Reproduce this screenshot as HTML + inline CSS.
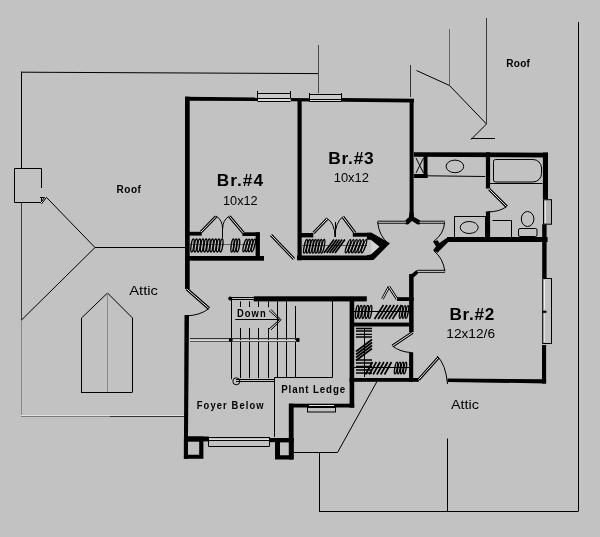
<!DOCTYPE html>
<html><head><meta charset="utf-8">
<style>
html,body{margin:0;padding:0;background:#c2c2c2;width:600px;height:537px;overflow:hidden}
svg{display:block;will-change:transform}
text{font-family:"Liberation Sans",sans-serif;fill:#000}
</style></head>
<body>
<svg width="600" height="537" viewBox="0 0 600 537">
<polyline points="21.5,320 21.5,202" stroke="#3a3a3a" stroke-width="1" fill="none"/>
<polyline points="21.5,416 21.5,320" stroke="#8a8a8a" stroke-width="1" fill="none"/>
<polyline points="21.5,168 21.5,71.7" stroke="#000" stroke-width="1" fill="none"/>
<polyline points="21,72.2 318.5,73.6" stroke="#000" stroke-width="1" fill="none"/>
<polyline points="318.5,45 318.5,93.3" stroke="#4a4a4a" stroke-width="1" fill="none"/>
<polyline points="41.5,188 41.5,168.5 14.5,168.5 14.5,202.5 41,202.5" stroke="#000" stroke-width="1" fill="none"/>
<polyline points="41.5,197.5 41.5,202" stroke="#000" stroke-width="1" fill="none"/>
<polyline points="40,197.5 44.5,197.5 42,201" stroke="#000" stroke-width="1" fill="none"/>
<polyline points="41.5,204 46.5,197.4" stroke="#000" stroke-width="1" fill="none"/>
<polyline points="46.5,197.4 95,247.5" stroke="#000" stroke-width="1" fill="none"/>
<polyline points="95,247.5 185,247.5" stroke="#000" stroke-width="1" fill="none"/>
<polyline points="95,247.5 21.5,320" stroke="#000" stroke-width="1" fill="none"/>
<polyline points="81.5,392 81.5,318" stroke="#000" stroke-width="1" fill="none"/>
<polyline points="132.5,318 132.5,392" stroke="#000" stroke-width="1" fill="none"/>
<polyline points="81.5,318 107.5,293 132.5,318" stroke="#000" stroke-width="1" fill="none"/>
<polyline points="81,392.5 132.5,392.5" stroke="#000" stroke-width="1" fill="none"/>
<polyline points="107.5,293 107.5,392" stroke="#8a8a8a" stroke-width="1" fill="none"/>
<polyline points="21,415.5 184,415.5" stroke="#e2e2e2" stroke-width="1" fill="none"/>
<polyline points="21,416.5 110,416.5" stroke="#7a7a7a" stroke-width="1" fill="none"/>
<polyline points="110,416.5 184,416.5" stroke="#333" stroke-width="1" fill="none"/>
<polyline points="410.5,65 410.5,97" stroke="#333" stroke-width="1" fill="none"/>
<polyline points="416.5,70.5 449.5,85.5 486.5,124 471,139.5" stroke="#000" stroke-width="1" fill="none"/>
<polyline points="471,138.5 495,138.5" stroke="#000" stroke-width="1" fill="none"/>
<polyline points="449.5,29 449.5,85" stroke="#666" stroke-width="1" fill="none"/>
<polyline points="486.5,18 486.5,124" stroke="#3a3a3a" stroke-width="1" fill="none"/>
<polyline points="578.5,22 578.5,511" stroke="#000" stroke-width="1" fill="none"/>
<polyline points="319.5,452.5 319.5,511" stroke="#000" stroke-width="1" fill="none"/>
<polyline points="319,511.5 578.5,511.5" stroke="#000" stroke-width="1" fill="none"/>
<polyline points="447.5,438.5 447.5,511" stroke="#000" stroke-width="1" fill="none"/>
<polyline points="294,452.5 337.5,452.5" stroke="#000" stroke-width="1" fill="none"/>
<polyline points="337.5,452.5 376.7,382" stroke="#000" stroke-width="1" fill="none"/>
<polyline points="294,404.5 320,404.5" stroke="#000" stroke-width="1" fill="none"/>
<polyline points="274.5,437 274.5,377.5" stroke="#000" stroke-width="1" fill="none"/>
<polyline points="274.5,377.5 332.5,377.5" stroke="#000" stroke-width="1" fill="none"/>
<polyline points="332.5,377.5 332.5,300" stroke="#000" stroke-width="1" fill="none"/>
<polygon points="185,96.7 257.5,97.6 257.5,100.9 185,100.8" fill="#000"/>
<polygon points="290.5,98 309.5,98.2 309.5,101.5 290.5,101.3" fill="#000"/>
<polygon points="341.5,98 414,98.75 414,102.5 341.5,101.75" fill="#000"/>
<rect x="185" y="96.7" width="4.7" height="192.3" fill="#000"/>
<polygon points="184.5,315 189,315 187.8,458.7 183.9,458.7" fill="#000"/>
<rect x="297.5" y="99" width="4.2" height="161.3" fill="#000"/>
<rect x="409.6" y="99" width="4" height="118" fill="#000"/>
<polygon points="413.8,152.2 548,152.7 548,157.6 413.8,156.7" fill="#000"/>
<rect x="542.9" y="152.5" width="5.1" height="47" fill="#000"/>
<rect x="542.2" y="224" width="4.4" height="54" fill="#000"/>
<rect x="542" y="345" width="4.1" height="38.5" fill="#000"/>
<rect x="447" y="237" width="100.6" height="5" fill="#000"/>
<rect x="423.6" y="156" width="3.9" height="22" fill="#000"/>
<rect x="413.8" y="174" width="13.7" height="4" fill="#000"/>
<rect x="485.9" y="152.3" width="4.2" height="36.2" fill="#000"/>
<rect x="485.9" y="211.4" width="4.2" height="28.6" fill="#000"/>
<polygon points="447.5,378.4 546.1,379.3 546.1,383.4 447.5,382" fill="#000"/>
<rect x="409.1" y="274" width="4.5" height="58.2" fill="#000"/>
<rect x="409.1" y="352.3" width="4.1" height="29.7" fill="#000"/>
<rect x="253.7" y="296.3" width="113.1" height="5.1" fill="#000"/>
<rect x="397" y="297.2" width="16.6" height="3.8" fill="#000"/>
<rect x="349.6" y="297" width="4.6" height="110.7" fill="#000"/>
<rect x="354" y="322.6" width="55.5" height="3.9" fill="#000"/>
<rect x="349.6" y="378" width="69.2" height="3.8" fill="#000"/>
<rect x="289" y="403.7" width="65.2" height="3.8" fill="#000"/>
<rect x="288.8" y="403.7" width="4.8" height="55.8" fill="#000"/>
<rect x="184" y="436.5" width="25" height="4.9" fill="#000"/>
<rect x="267.5" y="438" width="26.1" height="4.2" fill="#000"/>
<path d="M183.9,436.5 H203.4 V458.7 H183.9 Z M187.8,441.4 V454.8 H199.2 V441.4 Z" fill="#000" fill-rule="evenodd"/>
<path d="M275,438 H293.6 V459.5 H275 Z M280,442.2 V455.2 H289 V442.2 Z" fill="#000" fill-rule="evenodd"/>
<rect x="188" y="231.8" width="13.7" height="3.8" fill="#000"/>
<rect x="242.4" y="232.3" width="17.2" height="3.7" fill="#000"/>
<rect x="255.6" y="232.3" width="4.3" height="25.2" fill="#000"/>
<rect x="188" y="256" width="76" height="4.7" fill="#000"/>
<rect x="301" y="233" width="12.3" height="4.4" fill="#000"/>
<rect x="352.8" y="232.8" width="18.8" height="3.9" fill="#000"/>
<rect x="297" y="255.5" width="75" height="4.6" fill="#000"/>
<polygon points="366.9,232.8 371.6,232.8 390,243.2 373.5,260.1 366.9,260.1 366.9,255.2 370.8,254.6 379.5,246.8 370.8,239.7 366.9,239.7" fill="#000"/>
<polygon points="371.3,240.5 371.3,254 378.8,246.8" fill="#d6d6d6"/>
<polygon points="409.6,212 413.4,212 414,217 420,220.3 420,224.3 417.5,224.5 412,221 408,224.5 405.5,224.3 405.5,220.3 409,217" fill="#000"/>
<polygon points="460,237.3 447.7,237.3 439.5,243 437.5,240.3 433,241.5 436,246.5 433,250.3 437.5,252.8 449,241.2 460,241.2" fill="#000"/>
<polygon points="409.1,276 416.3,270.3 418,271 418,273.6 413.6,277.5" fill="#000"/>
<rect x="257.5" y="93.3" width="33" height="5.1" fill="#cbcbcb"/>
<rect x="257.5" y="98.4" width="33" height="2.8" fill="#dadada"/>
<polyline points="257.5,93.5 290.5,93.5" stroke="#000" stroke-width="1" fill="none"/>
<polyline points="257.5,98.5 290.5,98.5" stroke="#000" stroke-width="1" fill="none"/>
<polyline points="257.5,101.5 290.5,101.5" stroke="#000" stroke-width="1" fill="none"/>
<polyline points="257.5,90.8 257.5,101" stroke="#000" stroke-width="1" fill="none"/>
<polyline points="290.5,91 290.5,98" stroke="#000" stroke-width="1" fill="none"/>
<rect x="309.5" y="94.2" width="32" height="5.3" fill="#cbcbcb"/>
<rect x="309.5" y="99.5" width="32" height="1.8" fill="#dadada"/>
<polyline points="309.5,94.5 341.5,94.5" stroke="#000" stroke-width="1" fill="none"/>
<polyline points="309.5,99.5 341.5,99.5" stroke="#000" stroke-width="1" fill="none"/>
<polyline points="309.5,101.5 341.5,101.5" stroke="#000" stroke-width="1" fill="none"/>
<polyline points="309.5,93 309.5,101.5" stroke="#000" stroke-width="1" fill="none"/>
<polyline points="341.5,93 341.5,101.5" stroke="#000" stroke-width="1" fill="none"/>
<rect x="542.5" y="199.2" width="9.5" height="25.2" fill="#c2c2c2"/>
<rect x="543.5" y="199.7" width="8" height="24.5" stroke="#000" stroke-width="1" fill="#b4b4b4"/>
<polyline points="545.5,201 545.5,223" stroke="#e8e8e8" stroke-width="1" fill="none"/>
<rect x="542" y="278.2" width="10.1" height="65.7" fill="#c2c2c2"/>
<rect x="542.7" y="278.5" width="8.8" height="65" stroke="#000" stroke-width="1" fill="none"/>
<polyline points="544.5,280 544.5,309" stroke="#f0f0f0" stroke-width="1" fill="none"/>
<polyline points="544.5,314 544.5,342" stroke="#e0e0e0" stroke-width="1" fill="none"/>
<rect x="542" y="310.8" width="4.5" height="2" fill="#000"/>
<rect x="208.7" y="436.8" width="60.6" height="9.5" fill="#c2c2c2"/>
<polyline points="208.7,437.5 269.3,437.5" stroke="#000" stroke-width="1" fill="none"/>
<polyline points="208.7,440.5 269.3,440.5" stroke="#000" stroke-width="1" fill="none"/>
<polyline points="208.7,446.5 269.3,446.5" stroke="#000" stroke-width="1" fill="none"/>
<polyline points="208.7,439.5 269.3,439.5" stroke="#dcdcdc" stroke-width="1" fill="none"/>
<polyline points="208.5,437 208.5,446.5" stroke="#000" stroke-width="1" fill="none"/>
<polyline points="269.5,437 269.5,446.5" stroke="#000" stroke-width="1" fill="none"/>
<polyline points="309,405.5 334,405.5" stroke="#e4e4e4" stroke-width="1" fill="none"/>
<rect x="307.5" y="407.5" width="28" height="4.5" stroke="#000" stroke-width="1" fill="none"/>
<line x1="186.8" y1="289" x2="209" y2="308.5" stroke="#000" stroke-width="3"/>
<line x1="186.8" y1="289" x2="209" y2="308.5" stroke="#e8e8e8" stroke-width="1"/>
<line x1="271" y1="235" x2="294" y2="259" stroke="#000" stroke-width="3"/>
<line x1="271" y1="235" x2="294" y2="259" stroke="#e8e8e8" stroke-width="1"/>
<line x1="377.6" y1="222.2" x2="406" y2="222.2" stroke="#000" stroke-width="3"/>
<line x1="377.6" y1="222.2" x2="406" y2="222.2" stroke="#e8e8e8" stroke-width="1"/>
<line x1="419.5" y1="222.2" x2="444.6" y2="222.2" stroke="#000" stroke-width="3"/>
<line x1="419.5" y1="222.2" x2="444.6" y2="222.2" stroke="#e8e8e8" stroke-width="1"/>
<line x1="417.3" y1="271.3" x2="444.9" y2="271.3" stroke="#000" stroke-width="3"/>
<line x1="417.3" y1="271.3" x2="444.9" y2="271.3" stroke="#e8e8e8" stroke-width="1"/>
<line x1="489.2" y1="189.2" x2="506.7" y2="206.6" stroke="#000" stroke-width="3"/>
<line x1="489.2" y1="189.2" x2="506.7" y2="206.6" stroke="#e8e8e8" stroke-width="1"/>
<line x1="412.6" y1="332.5" x2="392.5" y2="346" stroke="#000" stroke-width="3"/>
<line x1="412.6" y1="332.5" x2="392.5" y2="346" stroke="#e8e8e8" stroke-width="1"/>
<line x1="418.8" y1="379.4" x2="438.5" y2="357.5" stroke="#000" stroke-width="3"/>
<line x1="418.8" y1="379.4" x2="438.5" y2="357.5" stroke="#e8e8e8" stroke-width="1"/>
<line x1="201" y1="232" x2="216" y2="216.5" stroke="#000" stroke-width="3"/>
<line x1="201" y1="232" x2="216" y2="216.5" stroke="#e8e8e8" stroke-width="1"/>
<line x1="229.5" y1="216.5" x2="243.5" y2="233" stroke="#000" stroke-width="3"/>
<line x1="229.5" y1="216.5" x2="243.5" y2="233" stroke="#e8e8e8" stroke-width="1"/>
<line x1="313.5" y1="233" x2="327" y2="219" stroke="#000" stroke-width="3"/>
<line x1="313.5" y1="233" x2="327" y2="219" stroke="#e8e8e8" stroke-width="1"/>
<line x1="343" y1="217" x2="355" y2="233" stroke="#000" stroke-width="3"/>
<line x1="343" y1="217" x2="355" y2="233" stroke="#e8e8e8" stroke-width="1"/>
<path d="M209,308.5 Q200,315.5 186.8,315.8 M377.6,221.8 Q379,236 388.5,243.6 M444.6,222.2 Q444,234 433.5,241.5 M444.9,271.3 Q443,258 434,251 M506.7,206.6 Q499,212 488.2,211.8 M392.5,346 Q400,352 411.5,352.6 M437.2,355.9 Q446,365 447.5,384" stroke="#000" stroke-width="1" fill="none" />
<path d="M416,158 L423.5,173 M423.5,158 L416,173" stroke="#000" stroke-width="1" fill="none" />
<polyline points="427.5,175.8 485.2,176.5" stroke="#000" stroke-width="1" fill="none"/>
<ellipse cx="454.9" cy="166.4" rx="8.8" ry="6.3" stroke="#000" fill="none"/>
<path d="M495.5,159.5 H533 A8.5,8.5 0 0 1 541.5,168 V173.5 A8.5,8.5 0 0 1 533,182 H495.5 A2,2 0 0 1 493.5,180 V161.5 A2,2 0 0 1 495.5,159.5 Z" stroke="#000" stroke-width="1" fill="none" />
<polyline points="490,183.5 542.5,183.5" stroke="#000" stroke-width="1" fill="none"/>
<rect x="454.5" y="216.5" width="31" height="21.5" stroke="#000" fill="none"/>
<ellipse cx="469.2" cy="227.5" rx="9" ry="6" stroke="#000" fill="none"/>
<ellipse cx="527.6" cy="219" rx="6.3" ry="7.5" stroke="#000" fill="none"/>
<rect x="518.5" y="228.5" width="18.5" height="8" rx="1.5" stroke="#000" fill="none"/>
<path d="M492.5,220.5 H511.5 V237.5" stroke="#000" stroke-width="1" fill="none" />
<polyline points="230.2,297.5 253.7,297.5" stroke="#000" stroke-width="1" fill="none"/>
<polyline points="230.2,299.5 253.7,299.5" stroke="#000" stroke-width="1" fill="none"/>
<polyline points="231.5,298 231.5,379.2" stroke="#000" stroke-width="1" fill="none"/>
<polyline points="240.5,301.4 240.5,307" stroke="#000" stroke-width="1" fill="none"/>
<polyline points="240.5,328 240.5,378" stroke="#000" stroke-width="1" fill="none"/>
<polyline points="249.5,301.4 249.5,307" stroke="#000" stroke-width="1" fill="none"/>
<polyline points="249.5,328 249.5,378" stroke="#000" stroke-width="1" fill="none"/>
<polyline points="258.5,301.4 258.5,307" stroke="#000" stroke-width="1" fill="none"/>
<polyline points="258.5,328 258.5,378" stroke="#000" stroke-width="1" fill="none"/>
<polyline points="268.5,301.4 268.5,307.3" stroke="#000" stroke-width="1" fill="none"/>
<polyline points="268.5,328 268.5,378" stroke="#000" stroke-width="1" fill="none"/>
<polyline points="277.5,301.4 277.5,378" stroke="#000" stroke-width="1" fill="none"/>
<polyline points="286.5,301.4 286.5,378" stroke="#000" stroke-width="1" fill="none"/>
<polyline points="295.5,306 295.5,378" stroke="#000" stroke-width="1" fill="none"/>
<polyline points="190,338.5 299.5,338.5" stroke="#333" stroke-width="1" fill="none"/>
<polyline points="190,341.5 299.5,341.5" stroke="#555" stroke-width="1" fill="none"/>
<polyline points="190,340.5 299.5,340.5" stroke="#dadada" stroke-width="1" fill="none"/>
<polyline points="236,379.5 274.2,379.5" stroke="#000" stroke-width="1" fill="none"/>
<polyline points="236,381.5 274.2,381.5" stroke="#000" stroke-width="1" fill="none"/>
<circle cx="236.3" cy="381.3" r="3.5" stroke="#000" fill="none"/>
<polyline points="235.3,319.5 279.3,319.5" stroke="#000" stroke-width="1" fill="none"/>
<polyline points="269,310.6 279.3,319.8 269,329" stroke="#000" stroke-width="1" fill="none"/>
<polyline points="271,309.5 281,319.8 271,330" stroke="#000" stroke-width="1" fill="none"/>
<circle cx="230.8" cy="340" r="2" fill="#000"/>
<circle cx="297.8" cy="340" r="1.9" fill="#000"/>
<circle cx="230.2" cy="298.5" r="2" fill="#000"/>
<polyline points="190,244.5 256,244.5" stroke="#666" stroke-width="1" fill="none"/>
<polyline points="301,245.5 367,245.5" stroke="#555" stroke-width="1" fill="none"/>
<polyline points="354,311.5 409,311.5" stroke="#000" stroke-width="1" fill="none"/>
<path d="M216,216 Q222.6,220 222.6,229 Q222.6,220 229.5,216" stroke="#000" stroke-width="1" fill="none" />
<polyline points="222.5,226 222.5,238" stroke="#000" stroke-width="1" fill="none"/>
<path d="M326.5,218 Q335,223 335,237 Q335,223 343,216.5" stroke="#000" stroke-width="1" fill="none" />
<polyline points="335.5,222 335.5,237" stroke="#000" stroke-width="1" fill="none"/>
<line x1="382.4" y1="299" x2="389" y2="286.7" stroke="#000" stroke-width="2.6"/>
<line x1="382.4" y1="299" x2="389" y2="286.7" stroke="#e8e8e8" stroke-width="1"/>
<line x1="389" y1="286.7" x2="397" y2="299" stroke="#000" stroke-width="2.6"/>
<line x1="389" y1="286.7" x2="397" y2="299" stroke="#e8e8e8" stroke-width="1"/>
<ellipse cx="192.5" cy="245.5" rx="1.4" ry="6.5" transform="rotate(8 192.5 245.5)" stroke="#000" stroke-width="1.4" fill="none"/>
<ellipse cx="195.7" cy="245.5" rx="1.4" ry="6.5" transform="rotate(8 195.7 245.5)" stroke="#000" stroke-width="1.4" fill="none"/>
<ellipse cx="198.9" cy="245.5" rx="1.4" ry="6.5" transform="rotate(8 198.9 245.5)" stroke="#000" stroke-width="1.4" fill="none"/>
<ellipse cx="202.1" cy="245.5" rx="1.4" ry="6.5" transform="rotate(8 202.1 245.5)" stroke="#000" stroke-width="1.4" fill="none"/>
<ellipse cx="205.3" cy="245.5" rx="1.4" ry="6.5" transform="rotate(8 205.3 245.5)" stroke="#000" stroke-width="1.4" fill="none"/>
<ellipse cx="208.5" cy="245.5" rx="1.4" ry="6.5" transform="rotate(8 208.5 245.5)" stroke="#000" stroke-width="1.4" fill="none"/>
<ellipse cx="211.7" cy="245.5" rx="1.4" ry="6.5" transform="rotate(8 211.7 245.5)" stroke="#000" stroke-width="1.4" fill="none"/>
<ellipse cx="214.9" cy="245.5" rx="1.4" ry="6.5" transform="rotate(8 214.9 245.5)" stroke="#000" stroke-width="1.4" fill="none"/>
<ellipse cx="218.1" cy="245.5" rx="1.4" ry="6.5" transform="rotate(8 218.1 245.5)" stroke="#000" stroke-width="1.4" fill="none"/>
<ellipse cx="221.3" cy="245.5" rx="1.4" ry="6.5" transform="rotate(8 221.3 245.5)" stroke="#000" stroke-width="1.4" fill="none"/>
<ellipse cx="232.5" cy="245.5" rx="1.3" ry="6.5" transform="rotate(8 232.5 245.5)" stroke="#000" stroke-width="1.4" fill="none"/>
<ellipse cx="235.3" cy="245.5" rx="1.3" ry="6.5" transform="rotate(8 235.3 245.5)" stroke="#000" stroke-width="1.4" fill="none"/>
<ellipse cx="238.1" cy="245.5" rx="1.3" ry="6.5" transform="rotate(8 238.1 245.5)" stroke="#000" stroke-width="1.4" fill="none"/>
<ellipse cx="245.0" cy="245.5" rx="1.3" ry="6.5" transform="rotate(15 245.0 245.5)" stroke="#000" stroke-width="1.4" fill="none"/>
<ellipse cx="247.8" cy="245.5" rx="1.3" ry="6.5" transform="rotate(15 247.8 245.5)" stroke="#000" stroke-width="1.4" fill="none"/>
<ellipse cx="250.6" cy="245.5" rx="1.3" ry="6.5" transform="rotate(15 250.6 245.5)" stroke="#000" stroke-width="1.4" fill="none"/>
<ellipse cx="253.4" cy="245.5" rx="1.3" ry="6.5" transform="rotate(15 253.4 245.5)" stroke="#000" stroke-width="1.4" fill="none"/>
<ellipse cx="305.5" cy="246.3" rx="1.3" ry="7" transform="rotate(12 305.5 246.3)" stroke="#000" stroke-width="1.4" fill="none"/>
<ellipse cx="308.4" cy="246.3" rx="1.3" ry="7" transform="rotate(12 308.4 246.3)" stroke="#000" stroke-width="1.4" fill="none"/>
<ellipse cx="311.3" cy="246.3" rx="1.3" ry="7" transform="rotate(12 311.3 246.3)" stroke="#000" stroke-width="1.4" fill="none"/>
<ellipse cx="314.2" cy="246.3" rx="1.3" ry="7" transform="rotate(12 314.2 246.3)" stroke="#000" stroke-width="1.4" fill="none"/>
<ellipse cx="317.1" cy="246.3" rx="1.3" ry="7" transform="rotate(12 317.1 246.3)" stroke="#000" stroke-width="1.4" fill="none"/>
<ellipse cx="320.0" cy="246.3" rx="1.3" ry="7" transform="rotate(12 320.0 246.3)" stroke="#000" stroke-width="1.4" fill="none"/>
<ellipse cx="322.9" cy="246.3" rx="1.3" ry="7" transform="rotate(12 322.9 246.3)" stroke="#000" stroke-width="1.4" fill="none"/>
<ellipse cx="348.0" cy="246.3" rx="1.3" ry="7" transform="rotate(20 348.0 246.3)" stroke="#000" stroke-width="1.4" fill="none"/>
<ellipse cx="351.2" cy="246.3" rx="1.3" ry="7" transform="rotate(20 351.2 246.3)" stroke="#000" stroke-width="1.4" fill="none"/>
<ellipse cx="354.4" cy="246.3" rx="1.3" ry="7" transform="rotate(20 354.4 246.3)" stroke="#000" stroke-width="1.4" fill="none"/>
<ellipse cx="357.6" cy="246.3" rx="1.3" ry="7" transform="rotate(20 357.6 246.3)" stroke="#000" stroke-width="1.4" fill="none"/>
<ellipse cx="360.8" cy="246.3" rx="1.3" ry="7" transform="rotate(20 360.8 246.3)" stroke="#000" stroke-width="1.4" fill="none"/>
<ellipse cx="364.0" cy="246.3" rx="1.3" ry="7" transform="rotate(20 364.0 246.3)" stroke="#000" stroke-width="1.4" fill="none"/>
<ellipse cx="357.0" cy="312.0" rx="1.3" ry="6.5" transform="rotate(8 357.0 312.0)" stroke="#000" stroke-width="1.4" fill="none"/>
<ellipse cx="360.3" cy="312.0" rx="1.3" ry="6.5" transform="rotate(8 360.3 312.0)" stroke="#000" stroke-width="1.4" fill="none"/>
<ellipse cx="363.6" cy="312.0" rx="1.3" ry="6.5" transform="rotate(8 363.6 312.0)" stroke="#000" stroke-width="1.4" fill="none"/>
<ellipse cx="366.9" cy="312.0" rx="1.3" ry="6.5" transform="rotate(8 366.9 312.0)" stroke="#000" stroke-width="1.4" fill="none"/>
<ellipse cx="370.2" cy="312.0" rx="1.3" ry="6.5" transform="rotate(8 370.2 312.0)" stroke="#000" stroke-width="1.4" fill="none"/>
<ellipse cx="401.0" cy="312.0" rx="1.2" ry="6.5" transform="rotate(10 401.0 312.0)" stroke="#000" stroke-width="1.4" fill="none"/>
<ellipse cx="404.0" cy="312.0" rx="1.2" ry="6.5" transform="rotate(10 404.0 312.0)" stroke="#000" stroke-width="1.4" fill="none"/>
<ellipse cx="407.0" cy="312.0" rx="1.2" ry="6.5" transform="rotate(10 407.0 312.0)" stroke="#000" stroke-width="1.4" fill="none"/>
<ellipse cx="396.0" cy="368.0" rx="1.2" ry="6" transform="rotate(10 396.0 368.0)" stroke="#000" stroke-width="1.4" fill="none"/>
<ellipse cx="399.0" cy="368.0" rx="1.2" ry="6" transform="rotate(10 399.0 368.0)" stroke="#000" stroke-width="1.4" fill="none"/>
<ellipse cx="402.0" cy="368.0" rx="1.2" ry="6" transform="rotate(10 402.0 368.0)" stroke="#000" stroke-width="1.4" fill="none"/>
<ellipse cx="405.0" cy="368.0" rx="1.2" ry="6" transform="rotate(10 405.0 368.0)" stroke="#000" stroke-width="1.4" fill="none"/>
<path d="M324.0,253.0 L334.0,239.5 M326.8,253.0 L336.8,239.5 M329.5,253.0 L339.5,239.5 M332.2,253.0 L342.2,239.5 M335.0,253.0 L345.0,239.5 M374.5,319.0 L383.5,305.0 M378.1,319.0 L387.1,305.0 M381.7,319.0 L390.7,305.0 M385.3,319.0 L394.3,305.0 M388.9,319.0 L397.9,305.0 M392.5,319.0 L401.5,305.0 M365.5,374.5 L372.5,362.0 M369.3,374.5 L376.3,362.0 M373.1,374.5 L380.1,362.0 M376.9,374.5 L383.9,362.0 M380.7,374.5 L387.7,362.0 M384.5,374.5 L391.5,362.0" stroke="#000" stroke-width="1.7" fill="none" />
<path d="M356,328.5 L372,328.5 M356,331 L372,331 M356,334.4 L372,334.4 M356,337 L372,337 M356,360 L372,360 M356,363 L372,363 M356,366.5 L372,366.5 M356,370 L372,370 M356,373 L372,373" stroke="#000" stroke-width="1.3" fill="none" />
<path d="M356,351.5 L372,339.5 M356,354.5 L372,342.5 M356,357.5 L372,345.5 M356,360.5 L372,348.5" stroke="#000" stroke-width="1.8" fill="none" />
<polyline points="364.5,328 364.5,377" stroke="#000" stroke-width="1" fill="none"/>
<polyline points="354,367.5 409,367.5" stroke="#000" stroke-width="1" fill="none"/>
<text transform="translate(216.7 186.3) scale(1.08 1)" x="0" y="0" font-size="16" font-weight="bold" textLength="42.87" lengthAdjust="spacing">Br.#4</text>
<text x="223" y="204.7" font-size="12.8" textLength="34.7" lengthAdjust="spacingAndGlyphs">10x12</text>
<text transform="translate(328.3 163.7) scale(1.06 1)" x="0" y="0" font-size="16.4" font-weight="bold" textLength="42.83" lengthAdjust="spacing">Br.#3</text>
<text x="333.7" y="182" font-size="12.8" textLength="35.3" lengthAdjust="spacingAndGlyphs">10x12</text>
<text transform="translate(449.4 320) scale(1.06 1)" x="0" y="0" font-size="16.2" font-weight="bold" textLength="42.36" lengthAdjust="spacing">Br.#2</text>
<text x="446.3" y="338" font-size="13" textLength="48.7" lengthAdjust="spacingAndGlyphs">12x12/6</text>
<text transform="translate(116.5 192.5) scale(0.95 1)" x="0" y="0" font-size="10.6" font-weight="bold" textLength="25.79" lengthAdjust="spacing">Roof</text>
<text transform="translate(506.2 66.5) scale(0.95 1)" x="0" y="0" font-size="10.6" font-weight="bold" textLength="25.05" lengthAdjust="spacing">Roof</text>
<text x="129.2" y="294.8" font-size="13.5" textLength="28.8" lengthAdjust="spacingAndGlyphs">Attic</text>
<text x="451" y="409" font-size="13.5" textLength="28" lengthAdjust="spacingAndGlyphs">Attic</text>
<text transform="translate(196.8 408.8) scale(0.88 1)" x="0" y="0" font-size="10.6" font-weight="bold" textLength="75.91" lengthAdjust="spacing">Foyer Below</text>
<text transform="translate(281.2 393.3) scale(0.9 1)" x="0" y="0" font-size="10.8" font-weight="bold" textLength="71.11" lengthAdjust="spacing">Plant Ledge</text>
<text transform="translate(237 317.3) scale(0.92 1)" x="0" y="0" font-size="10.2" font-weight="bold" textLength="31.2" lengthAdjust="spacing">Down</text>
</svg>
</body></html>
